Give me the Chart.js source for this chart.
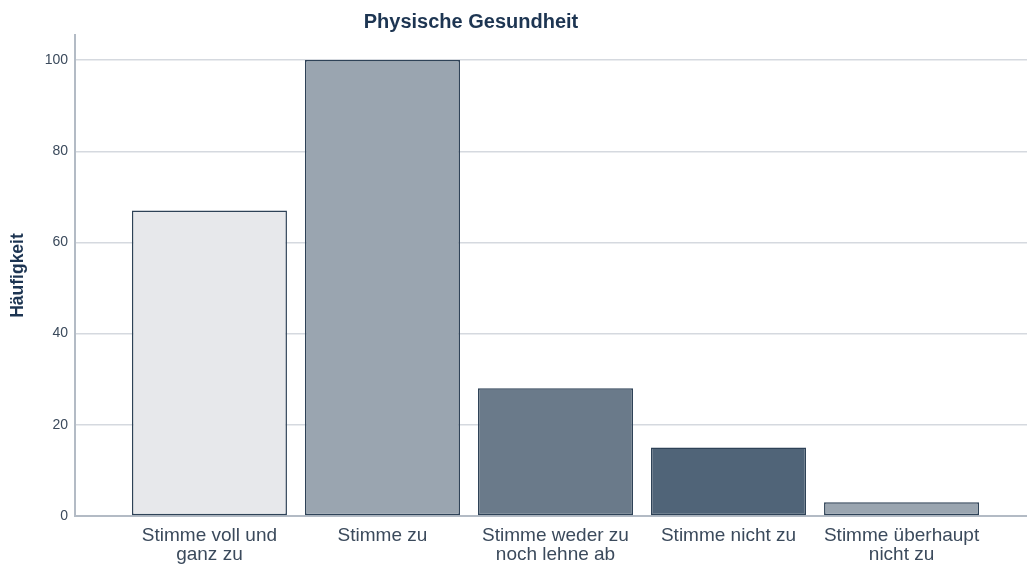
<!DOCTYPE html>
<html>
<head>
<meta charset="utf-8">
<script src="https://cdn.jsdelivr.net/npm/chart.js@4"></script>
<style>
  html, body { margin: 0; padding: 0; background: #fff; }
  #wrap { width: 1027px; height: 564px; }
</style>
</head>
<body>
<div id="wrap"><canvas id="chart"></canvas></div>
<script>
// data
const chartTitle = "Physische Gesundheit";
const axisTitle = "Häufigkeit";
const categories = [
  ["Stimme voll und", "ganz zu"],
  ["Stimme zu"],
  ["Stimme weder zu", "noch lehne ab"],
  ["Stimme nicht zu"],
  ["Stimme überhaupt", "nicht zu"],
];
const values = [67, 100, 28, 15, 3];
const barColors = ["#e7e8eb", "#9aa5b0", "#6a7a8a", "#506478", "#9aa5b0"];

const FONT = "'Liberation Sans', Arial, sans-serif";

// title drawn by hand so it can sit left of centre like the original
const titlePlugin = {
  id: "titleText",
  afterDraw(chart) {
    const ctx = chart.ctx;
    ctx.save();
    ctx.font = "bold 20px " + FONT;
    ctx.fillStyle = "#1d3552";
    ctx.textAlign = "center";
    ctx.textBaseline = "middle";
    ctx.fillText(chartTitle, 471, 22);
    ctx.restore();
  },
};

const config = {
  type: "bar",
  data: {
    datasets: [
      {
        data: categories.map((c, i) => ({ x: i, y: values[i] })),
        backgroundColor: barColors,
        borderColor: "#2e4257",
        borderWidth: 1.5,
        borderSkipped: false,
        barPercentage: 0.896,
        categoryPercentage: 1,
      },
    ],
  },
  options: {
    responsive: true,
    maintainAspectRatio: false,
    animation: false,
    layout: { padding: { top: 35, right: 0, left: 0, bottom: 0 } },
    plugins: {
      legend: { display: false },
      tooltip: { enabled: false },
    },
    scales: {
      x: {
        type: "linear",
        offset: false,
        min: -0.777,
        max: 4.725,
        afterFit(scale) { scale.height = 48; },
        grid: { display: false, offset: false },
        border: { display: true, color: "#b3bbc5", width: 2 },
        ticks: {
          stepSize: 1,
          includeBounds: false,
          autoSkip: false,
          maxRotation: 0,
          padding: 2,
          color: "#3b4a5c",
          font: { family: FONT, size: 19, lineHeight: 1.0 },
          callback: (v) => categories[v] || "",
        },
      },
      y: {
        min: 0,
        max: 105.5,
        afterFit(scale) { scale.width = 75; },
        grid: { color: "#d5d9df", lineWidth: 1.5, drawTicks: false },
        border: { display: true, color: "#b3bbc5", width: 2 },
        ticks: {
          stepSize: 20,
          includeBounds: false,
          padding: 7,
          color: "#3b4a5c",
          font: { family: FONT, size: 14 },
        },
        title: {
          display: true,
          text: axisTitle,
          color: "#1d3552",
          font: { family: FONT, size: 17.5, weight: "bold" },
          padding: { top: 8, bottom: 0 },
        },
      },
    },
  },
  plugins: [titlePlugin],
};

const myChart = new Chart(document.getElementById("chart"), config);
</script>
</body>
</html>
